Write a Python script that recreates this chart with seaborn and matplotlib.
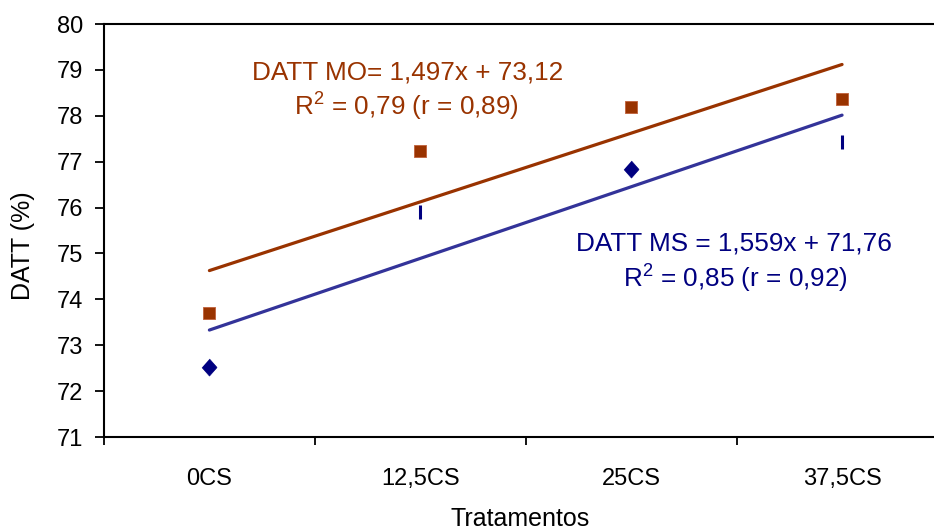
import numpy as np
import pandas as pd
import matplotlib
matplotlib.use('Agg')
import matplotlib.pyplot as plt
import seaborn as sns
from matplotlib.ticker import FixedLocator

# Data
tratamentos = ['0CS', '12,5CS', '25CS', '37,5CS']
pos = [1, 2, 3, 4]
datt_mo = [73.70, 77.23, 78.19, 78.37]
datt_ms = [72.53, 75.90, 76.84, 77.42]

eq_mo = ['DATT MO= 1,497x + 73,12', 'R$^2$ = 0,79 (r = 0,89)']
eq_ms = ['DATT MS = 1,559x + 71,76', 'R$^2$ = 0,85 (r = 0,92)']

brown = '#993300'
navy = '#000080'
blue_line = '#333399'

sns.set_theme(style='white')
plt.rcParams['font.family'] = ['Liberation Sans', 'DejaVu Sans']
plt.rcParams['mathtext.fontset'] = 'custom'
plt.rcParams['mathtext.rm'] = 'Liberation Sans'

df = pd.DataFrame({'pos': pos, 'mo': datt_mo, 'ms': datt_ms})

fig = plt.figure(figsize=(9.34, 5.31), dpi=100)
ax = fig.add_axes([0.1113, 0.177, 0.8887, 0.7778])

# trend lines (linear fit over the points)
sns.regplot(data=df, x='pos', y='mo', scatter=False, ci=None, color=brown,
            line_kws={'lw': 2.3}, ax=ax)
sns.regplot(data=df, x='pos', y='ms', scatter=False, ci=None, color=blue_line,
            line_kws={'lw': 2.3}, ax=ax)

# points
sns.scatterplot(data=df, x='pos', y='mo', marker='s', s=80, color=brown,
                edgecolor='#c0603a', linewidth=0.6, ax=ax, zorder=3)
diamond = [(0, 1), (0.88, 0), (0, -1), (-0.88, 0)]
sns.scatterplot(data=df.iloc[[0, 2]], x='pos', y='ms', marker=diamond, s=150,
                color=navy, edgecolor=navy, linewidth=0.5, ax=ax, zorder=3)
sns.scatterplot(data=df.iloc[[1, 3]], x='pos', y='ms', marker='|', s=100,
                color=navy, linewidth=2.2, ax=ax, zorder=3)

# equations
ax.text(1.942, 78.795, eq_mo[0], color=brown, fontsize=18.8, ha='center', va='baseline')
ax.text(1.935, 78.017, eq_mo[1], color=brown, fontsize=18.8, ha='center', va='baseline')
ax.text(3.488, 75.075, eq_ms[0], color=navy, fontsize=18.8, ha='center', va='baseline')
ax.text(3.493, 74.276, eq_ms[1], color=navy, fontsize=18.8, ha='center', va='baseline')

ax.set_xlim(0.5, 4.436)
ax.set_ylim(71, 80)
ax.set_yticks(range(71, 81))
ax.set_xticks(pos)
ax.set_xticklabels(tratamentos)
ax.xaxis.set_minor_locator(FixedLocator([0.5, 1.5, 2.5, 3.5, 4.5]))

ax.tick_params(axis='x', which='major', length=0, pad=22, labelsize=17, labelcolor='black')
ax.tick_params(axis='x', which='minor', bottom=True, length=6, width=1.3, color='black',
               direction='out')
ax.tick_params(axis='y', left=True, length=6.5, width=1.3, color='black',
               direction='out', pad=8.2, labelsize=17, labelcolor='black')

for side in ['left', 'bottom', 'top']:
    ax.spines[side].set_color('black')
    ax.spines[side].set_linewidth(1.5)
ax.spines['right'].set_visible(False)

ax.set_xlabel('Tratamentos', fontsize=18, color='black')
ax.set_ylabel('DATT (%)', fontsize=18, color='black')
ax.xaxis.set_label_coords(0.501, -0.169)
ax.xaxis.label.set_va('top')
ax.yaxis.set_label_coords(-0.083, 0.4625)

fig.savefig('out.png', dpi=100)
